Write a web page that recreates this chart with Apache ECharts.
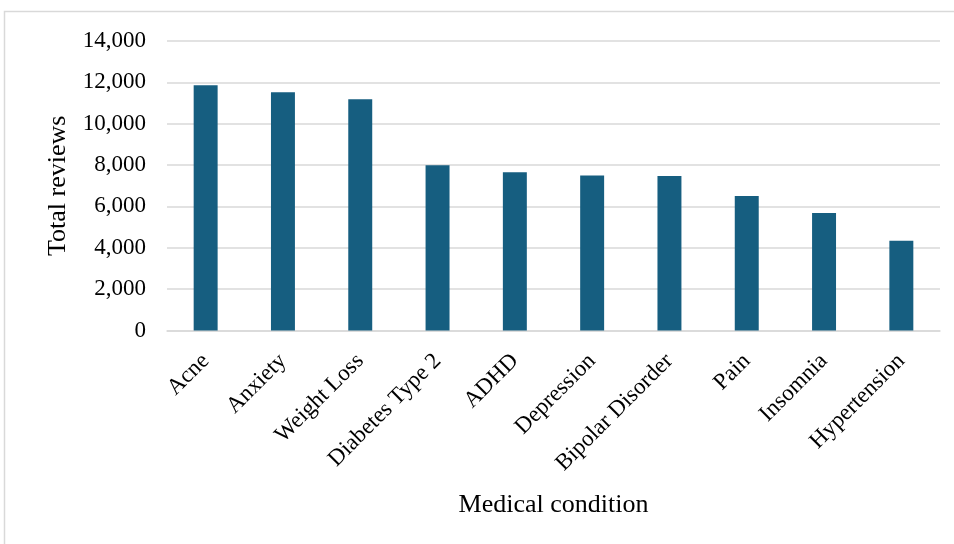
<!DOCTYPE html>
<html>
<head>
<meta charset="utf-8">
<script src="https://cdn.jsdelivr.net/npm/echarts@6/dist/echarts.min.js"></script>
<style>
  html, body { margin: 0; padding: 0; background: #ffffff; }
  #chart { width: 954px; height: 544px; }
</style>
</head>
<body>
<div id="chart"></div>
<script>
// Medical conditions ordered by review count
const conditions = ['Acne', 'Anxiety', 'Weight Loss', 'Diabetes Type 2', 'ADHD',
  'Depression', 'Bipolar Disorder', 'Pain', 'Insomnia', 'Hypertension'];
const totalReviews = [11860, 11520, 11180, 7990, 7650, 7500, 7470, 6500, 5680, 4340];

const serif = '"Liberation Serif", "DejaVu Serif", serif';
const gridGray = '#d9d9d9';

const chart = echarts.init(document.getElementById('chart'), null, { renderer: 'canvas' });

chart.setOption({
  animation: false,
  backgroundColor: '#ffffff',
  graphic: [{
    type: 'rect',
    shape: { x: 4.5, y: 11.5, width: 1000, height: 600 },
    style: { fill: 'none', stroke: gridGray, lineWidth: 1.5 },
    silent: true,
    z: -1
  }],
  grid: { left: 167, right: 14, top: 41, bottom: 213.5, containLabel: false },
  xAxis: {
    type: 'category',
    data: conditions,
    name: 'Medical condition',
    nameLocation: 'middle',
    nameGap: 162,
    nameTextStyle: { fontFamily: serif, fontSize: 26, color: '#000' },
    axisLine: { show: true, lineStyle: { color: gridGray, width: 1.5 } },
    axisTick: { show: false },
    axisLabel: {
      rotate: 45,
      interval: 0,
      margin: 27,
      fontFamily: serif,
      fontSize: 23,
      color: '#000'
    }
  },
  yAxis: {
    type: 'value',
    min: 0,
    max: 14000,
    interval: 2000,
    name: 'Total reviews',
    nameLocation: 'middle',
    nameGap: 96,
    nameTextStyle: { fontFamily: serif, fontSize: 26, color: '#000' },
    axisLine: { show: false },
    axisTick: { show: false },
    axisLabel: {
      margin: 21,
      fontFamily: serif,
      fontSize: 23,
      color: '#000',
      formatter: v => v.toLocaleString('en-US')
    },
    splitLine: { lineStyle: { color: gridGray, width: 1.5 } }
  },
  series: [{
    type: 'bar',
    data: totalReviews,
    barWidth: '31%',
    itemStyle: { color: '#165e80' }
  }]
});
</script>
</body>
</html>
